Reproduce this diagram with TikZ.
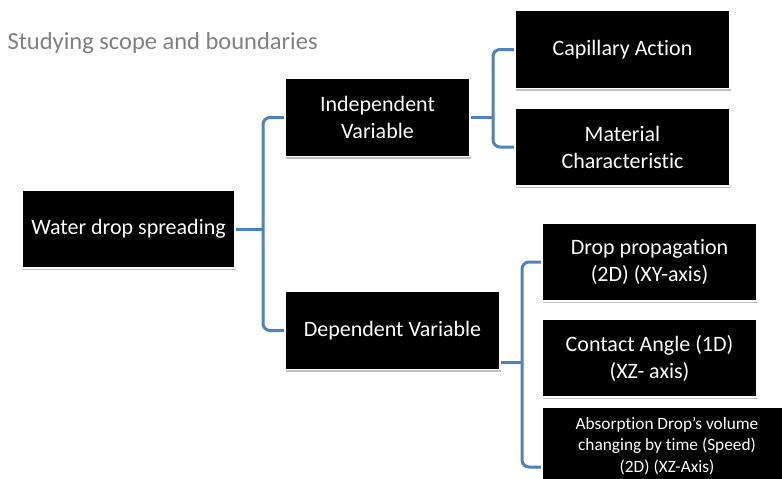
\documentclass[tikz,border=0pt]{standalone}
\usepackage{fontspec}
\setmainfont{Carlito}[Ligatures=NoCommon]
\definecolor{brblue}{RGB}{79,129,189}
\definecolor{titlegray}{RGB}{128,128,128}
\usetikzlibrary{positioning,shadows,backgrounds}
\tikzset{
    blackbox/.style={
        draw=white, line width=1.2pt, fill=black, text=white,
        align=center, minimum width=215pt, minimum height=78pt,
        font=\fontsize{22}{27}\selectfont,
        drop shadow={shadow xshift=1pt, shadow yshift=-2pt, fill=black, opacity=.25}
    },
    brace/.style={
        draw=brblue, line width=3pt, rounded corners=7pt
    }
}

\begin{document}
\begin{tikzpicture}[x=1pt, y=-1pt]
\clip (0,0) rectangle (782,479);
\node[text=titlegray, font=\fontsize{24.5}{28}\selectfont, anchor=west]
  (title) at (4,43) {Studying scope and boundaries};
\node[blackbox, minimum width=213pt] (root) at (128.5,229) {Water drop spreading};
\node[blackbox, minimum width=185pt] (indep) at (377.5,117.5) {Independent\\Variable};
\node[blackbox] (capil) at (622.5,49.5) {Capillary Action};
\node[blackbox] (mater) at (622.5,147) {Material\\Characteristic};
\node[blackbox] (dep) at (392.5,330.5) {Dependent Variable};
\node[blackbox] (drop) at (649.5,262) {Drop propagation\\(2D) (XY-axis)};
\node[blackbox] (contact) at (649.5,358) {Contact Angle (1D)\\(XZ- axis)};
\node[blackbox, minimum width=250pt, font=\fontsize{17.3}{21.5}\selectfont]
  (absorb) at (667,446) {Absorption Drop’s volume\\changing by time (Speed)\\(2D) (XZ-Axis)};
% brackets
\coordinate (rootfork) at (263,229);
\coordinate (indfork) at (493,117.5);
\coordinate (depfork) at (522,362);
\coordinate (absend) at (542,467);
\begin{scope}[on background layer]
\draw[brace] (indep.west) -| (rootfork) |- (dep.west);
\draw[brace] (root.east) -- (rootfork);
\draw[brace] (capil.west) -| (indfork) |- (mater.west);
\draw[brace] (indep.east) -- (indfork);
\draw[brace] (drop.west) -| (depfork) |- (absend);
\draw[brace] (dep.east |- depfork) -- (depfork);
\end{scope}
\end{tikzpicture}
\end{document}
